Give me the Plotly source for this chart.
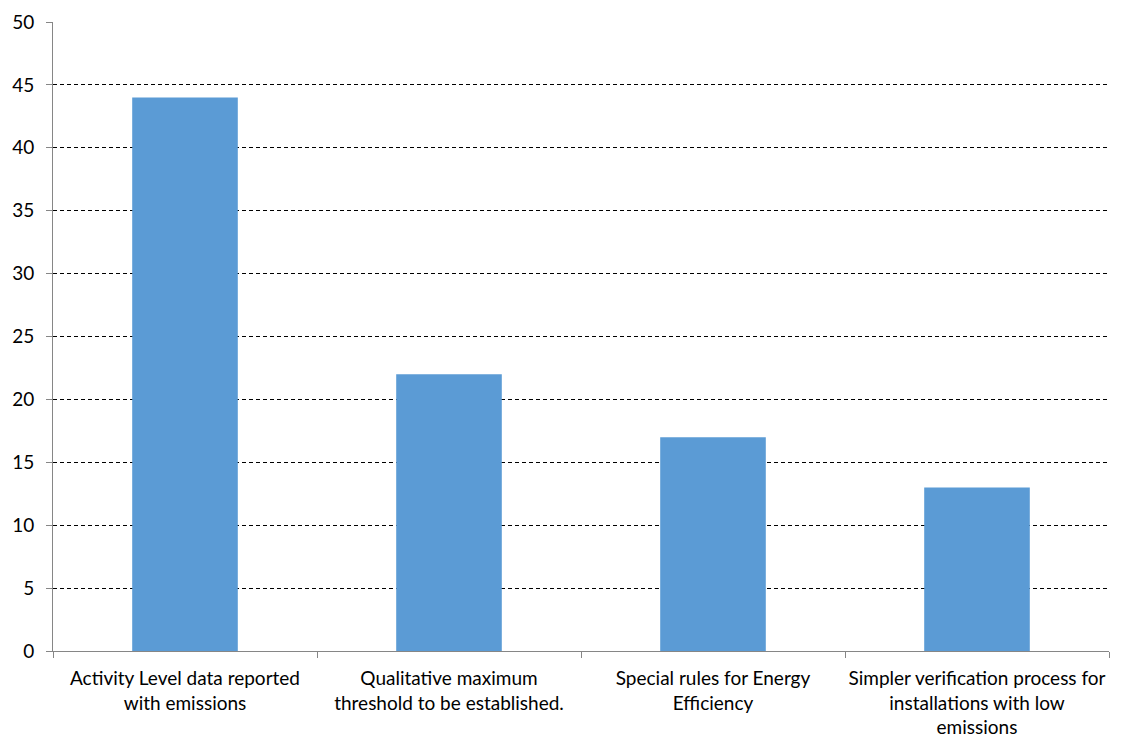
import plotly.graph_objects as go

# ---------------------------------
# Data
# ---------------------------------

categories = [
    "Activity Level data reported with emissions",
    "Qualitative maximum threshold to be established.",
    "Special rules for Energy Efficiency",
    "Simpler verification process for installations with low emissions",
]

tick_labels = [
    "Activity Level data reported<br>with emissions",
    "Qualitative maximum<br>threshold to be established.",
    "Special rules for Energy<br>Efficiency",
    "Simpler verification process for<br>installations with low<br>emissions",
]

values = [44, 22, 17, 13]

# ---------------------------------
# Bar chart
# ---------------------------------

fig = go.Figure(
    go.Bar(
        x=categories,
        y=values,
        marker=dict(color="#5B9BD5", line=dict(width=0)),
        width=0.4,
        hoverinfo="x+y",
    )
)

axis_grey = "#868686"

# page body has an 8px margin, so the figure is sized to fit inside it
fig.update_layout(
    width=1116,
    height=738,
    margin=dict(l=45, r=15, t=14, b=95),
    paper_bgcolor="white",
    plot_bgcolor="white",
    showlegend=False,
    font=dict(family="Lato, Open Sans, sans-serif", size=19, color="black"),
)

fig.update_xaxes(
    tickmode="array",
    tickvals=categories,
    ticktext=tick_labels,
    tickangle=0,
    tickson="boundaries",
    ticks="outside",
    ticklen=6,
    tickcolor=axis_grey,
    ticklabelstandoff=10,
    showline=True,
    linecolor=axis_grey,
    linewidth=1,
    showgrid=False,
    automargin=False,
    tickfont=dict(size=19),
)

fig.update_yaxes(
    range=[0, 50],
    dtick=5,
    ticks="outside",
    ticklen=6,
    tickcolor=axis_grey,
    ticklabelstandoff=8,
    showline=True,
    linecolor=axis_grey,
    linewidth=1,
    showgrid=True,
    gridcolor="black",
    griddash="4px,3px",
    gridwidth=1,
    zeroline=False,
    automargin=False,
    tickfont=dict(size=19),
)

fig.write_html("out.html")
